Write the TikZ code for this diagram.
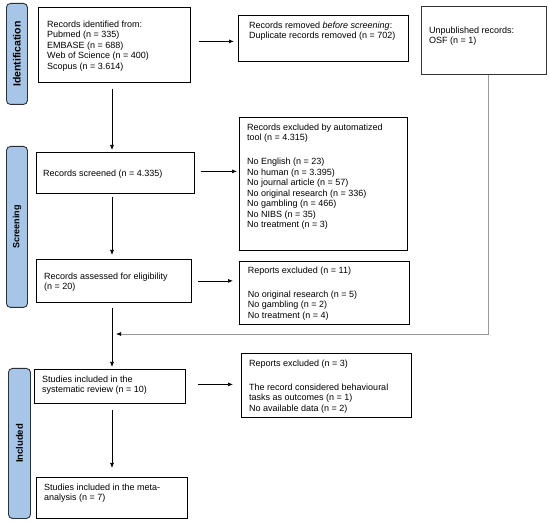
\documentclass[tikz,border=0pt]{standalone}
\usepackage{fontspec}
\setmainfont{Liberation Sans}
\usetikzlibrary{arrows.meta,calc}
\definecolor{barfill}{HTML}{A7C5E6}
\definecolor{barline}{HTML}{2B2F36}
\definecolor{linkgray}{HTML}{9A9A9A}
\begin{document}
\begin{tikzpicture}[x=1pt,y=-1pt,
  boxnode/.style={draw=black,line width=0.8pt,inner sep=0pt,anchor=north west},
  txt/.style={inner sep=0pt,anchor=north west,align=left,font=\fontsize{9}{10.5}\selectfont},
  bar/.style={draw=barline,fill=barfill,line width=0.9pt,rounded corners=4pt,inner sep=0pt,anchor=north west},
  barlabel/.style={rotate=90,font=\bfseries\fontsize{#1}{#1}\selectfont,inner sep=0pt},
  arr/.style={line width=0.7pt,-{Latex[length=5pt,width=4pt]}},
  conn/.style={line width=0.7pt}]
\useasboundingbox (0,0) rectangle (550,524);
% side bars
\node[bar,minimum width=21pt,minimum height=101pt] (barI) at (6,3) {};
\node[barlabel=10.5] (lblI) at (barI.center) {Identification};
\node[bar,minimum width=21pt,minimum height=161pt] (barS) at (6,146) {};
\node[barlabel=9] (lblS) at (barS.center) {Screening};
\node[bar,minimum width=22pt,minimum height=150pt] (barN) at (8,368) {};
\node[barlabel=9.5] (lblN) at (barN.center) {Included};
% boxes
\node[boxnode,minimum width=152pt,minimum height=75pt] (b1) at (38,7) {};
\node[txt] (t1) at (47,20.7) {Records identified from:\\Pubmed (n = 335)\\EMBASE (n = 688)\\Web of Science (n = 400)\\Scopus (n = 3.614)};
\node[boxnode,minimum width=170pt,minimum height=46pt] (rem) at (238,15) {};
\node[txt] (trem) at (249,21.7) {Records removed \textit{before screening}:\\Duplicate records removed (n = 702)};
\node[boxnode,draw=black!80,minimum width=125pt,minimum height=68pt] (unp) at (421,6) {};
\node[txt] (tunp) at (429,26.7) {Unpublished records:\\OSF (n = 1)};
\node[boxnode,minimum width=158pt,minimum height=41pt] (scr) at (36,152) {};
\node[txt] (tscr) at (43,169.7) {Records screened (n = 4.335)};
\node[boxnode,minimum width=168pt,minimum height=133pt] (exa) at (239,117) {};
\node[txt] (texa) at (247,123.7) {Records excluded by automatized\\tool (n = 4.315)\\[13.4pt]No English (n = 23)\\No human (n = 3.395)\\No journal article (n = 57)\\No original research (n = 336)\\No gambling (n = 466)\\No NIBS (n = 35)\\No treatment (n = 3)};
\node[boxnode,minimum width=155pt,minimum height=43pt] (asm) at (36,259) {};
\node[txt] (tasm) at (44,272.7) {Records assessed for eligibility\\(n = 20)};
\node[boxnode,minimum width=170pt,minimum height=63pt] (r11) at (239,261) {};
\node[txt] (tr11) at (247.7,266.7) {Reports excluded (n = 11)\\[13.4pt]No original research (n = 5)\\No gambling (n = 2)\\No treatment (n = 4)};
\node[boxnode,minimum width=151pt,minimum height=34pt] (sys) at (34,369) {};
\node[txt] (tsys) at (42,375.7) {Studies included in the\\systematic review (n = 10)};
\node[boxnode,minimum width=170pt,minimum height=64pt] (r3) at (241,353) {};
\node[txt] (tr3) at (249,359.7) {Reports excluded (n = 3)\\[13.4pt]The record considered behavioural\\tasks as outcomes (n = 1)\\No available data (n = 2)};
\node[boxnode,minimum width=151pt,minimum height=41pt] (meta) at (36,477) {};
\node[txt] (tmeta) at (44,483.7) {Studies included in the meta-\\analysis (n = 7)};
% spine coordinates
\coordinate (sp) at (112,0);
\coordinate (jn) at (112,334);
% horizontal arrows
\draw[arr,shorten <=8pt,shorten >=4pt] ([yshift=3.5pt]b1.east) -- ([yshift=3.5pt]b1.east -| rem.west);
\draw[arr,shorten <=6pt,shorten >=2pt] ([yshift=1.5pt]scr.east) -- ([yshift=1.5pt]scr.east -| exa.west);
\draw[arr,shorten <=6pt,shorten >=6pt] (asm.east) -- (asm.east -| r11.west);
\draw[arr,shorten <=12pt,shorten >=8pt] ([yshift=2pt]sys.east) -- ([yshift=2pt]sys.east -| r3.west);
% vertical arrows
\draw[arr,shorten <=6pt,shorten >=2pt] (b1.south -| sp) -- (scr.north -| sp);
\draw[arr,shorten <=3pt,shorten >=4pt] (scr.south -| sp) -- (asm.north -| sp);
\draw[arr,shorten <=5pt,shorten >=2pt] (asm.south -| sp) -- (sys.north -| sp);
\draw[arr,shorten <=6pt,shorten >=9pt] (sys.south -| sp) -- (meta.north -| sp);
% unpublished link
\draw[conn,draw=linkgray,-{Latex[length=5pt,width=4pt,color=black]},shorten >=4pt]
  ([xshift=4.5pt]unp.south) -- ([xshift=4.5pt]unp.south |- jn) -- (jn);
\end{tikzpicture}
\end{document}
